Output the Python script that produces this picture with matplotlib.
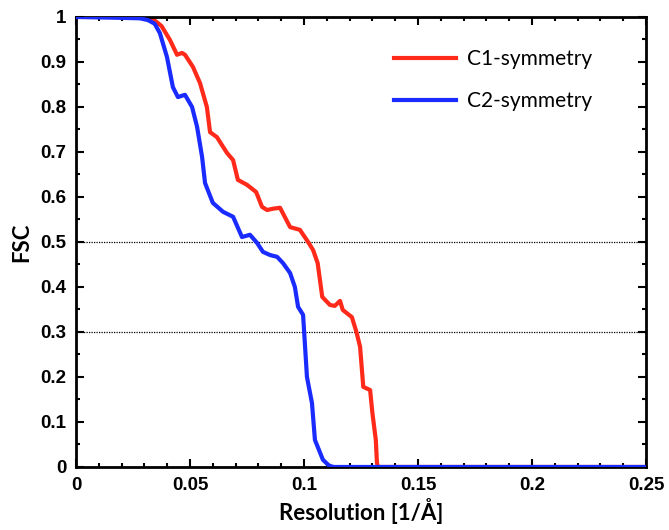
import matplotlib.pyplot as plt
from matplotlib.ticker import MultipleLocator

# C1-symmetry FSC curve
res_c1 = [0, 0.01, 0.02, 0.03, 0.0338, 0.0375, 0.0412, 0.0443, 0.0465, 0.0478, 0.0513,
          0.0544, 0.0574, 0.0588, 0.0618, 0.0662, 0.0689, 0.071, 0.075, 0.079, 0.0816,
          0.0838, 0.0865, 0.0895, 0.0939, 0.0982, 0.1018, 0.104, 0.106, 0.108, 0.1114,
          0.1135, 0.1158, 0.117, 0.121, 0.123, 0.1246, 0.126, 0.129, 0.130, 0.1315,
          0.132, 0.1325, 0.15, 0.2, 0.25]
fsc_c1 = [1.0, 1.0, 1.0, 0.999, 0.995, 0.98, 0.949, 0.916, 0.92, 0.916, 0.889,
          0.853, 0.80, 0.744, 0.733, 0.698, 0.682, 0.638, 0.627, 0.611, 0.578,
          0.571, 0.574, 0.576, 0.533, 0.527, 0.50, 0.482, 0.453, 0.378, 0.36,
          0.358, 0.369, 0.349, 0.333, 0.30, 0.267, 0.178, 0.171, 0.12, 0.06,
          0.009, 0.0, 0.0, 0.0, 0.0]

# C2-symmetry FSC curve
res_c2 = [0, 0.01, 0.02, 0.028, 0.0316, 0.0345, 0.0368, 0.0399, 0.0425, 0.0447, 0.0478,
          0.0509, 0.0531, 0.0553, 0.0566, 0.060, 0.0645, 0.0689, 0.0728, 0.0763, 0.0794,
          0.082, 0.0851, 0.0882, 0.0908, 0.0939, 0.096, 0.0974, 0.0996, 0.1013, 0.1035,
          0.1048, 0.1083, 0.111, 0.113, 0.15, 0.2, 0.25]
fsc_c2 = [1.0, 0.999, 0.998, 0.997, 0.993, 0.985, 0.964, 0.911, 0.844, 0.822, 0.827,
          0.80, 0.756, 0.689, 0.631, 0.587, 0.567, 0.556, 0.511, 0.516, 0.498,
          0.478, 0.471, 0.467, 0.453, 0.431, 0.40, 0.356, 0.338, 0.20, 0.142,
          0.06, 0.016, 0.003, 0.0, 0.0, 0.0, 0.0]

thresholds = [0.5, 0.3]

fig = plt.figure(figsize=(6.69, 5.30), dpi=100)
ax = fig.add_axes([0.1136, 0.1189, 0.8520, 0.8491])

for t in thresholds:
    ax.axhline(t, color='black', linestyle=(0, (1, 1)), linewidth=0.9, zorder=1)

ax.plot(res_c1, fsc_c1, color='#ff2a1a', linewidth=3, label='C1-symmetry', zorder=2)
ax.plot(res_c2, fsc_c2, color='#1a2bff', linewidth=3, label='C2-symmetry', zorder=3)

ax.set_xlim(0, 0.25)
ax.set_ylim(0, 1)
ax.xaxis.set_minor_locator(MultipleLocator(0.01))
ax.yaxis.set_minor_locator(MultipleLocator(0.05))
ax.set_xticks([0, 0.05, 0.1, 0.15, 0.2, 0.25])
ax.set_xticklabels(['0', '0.05', '0.1', '0.15', '0.2', '0.25'])
ax.set_yticks([0, 0.1, 0.2, 0.3, 0.4, 0.5, 0.6, 0.7, 0.8, 0.9, 1])
ax.set_yticklabels(['0', '0.1', '0.2', '0.3', '0.4', '0.5', '0.6', '0.7', '0.8', '0.9', '1'])
ax.tick_params(which='both', direction='in', top=True, right=True, width=1.5)
ax.tick_params(which='major', length=6, labelsize=13.5, pad=7)
ax.tick_params(which='minor', length=3)
for lab in ax.get_xticklabels() + ax.get_yticklabels():
    lab.set_fontfamily('Liberation Sans')
    lab.set_fontweight('bold')
for s in ax.spines.values():
    s.set_linewidth(2)

ax.set_xlabel('Resolution [1/Å]', fontsize=16, fontweight='bold', family='Lato', labelpad=3)
ax.set_ylabel('FSC', fontsize=16, fontweight='bold', family='Lato', labelpad=6)

ax.legend(loc='upper left', bbox_to_anchor=(0.525, 0.97), frameon=False,
          prop={'family': 'Lato', 'size': 15}, handlelength=3.0, labelspacing=1.05,
          handletextpad=0.5)

fig.savefig('out.png', dpi=100)
